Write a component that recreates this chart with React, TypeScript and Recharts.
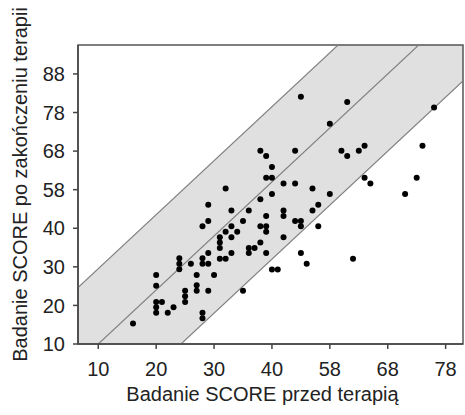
import React from 'react';
import {
  ComposedChart,
  Scatter,
  Area,
  Line,
  XAxis,
  YAxis,
  ReferenceArea,
} from 'recharts';

// Badanie SCORE przed terapia (x)
const before = [
  45, 53, 68, 50, 38, 44, 52, 55, 56, 66, 39, 53, 40, 39, 40, 56, 65, 42, 44, 57,
  32, 47, 40, 50, 63, 38, 29, 48, 33, 36, 42, 47, 39, 42, 29, 35, 44, 45, 28, 33,
  38, 39, 45, 48, 32, 34, 39, 31, 33, 42, 31, 38, 31, 36, 37, 29, 33, 36, 39, 45,
  24, 28, 31, 32, 54, 24, 26, 28, 29, 46, 24, 40, 41, 20, 27, 30, 27, 20, 25, 27,
  29, 35, 25, 20, 21, 25, 20, 23, 20, 22, 28, 28, 16,
];

// Badanie SCORE po zakonczeniu terapii (y)
const after = [
  74.1, 72.7, 71.3, 67.1, 60.1, 60.1, 60.1, 60.1, 61.4, 61.4, 58.7, 58.7, 55.9, 53.1, 53.1, 53.1, 53.1, 51.6, 51.6, 51.6,
  50.3, 50.3, 48.9, 48.9, 48.9, 47.5, 46.1, 46.1, 44.6, 44.6, 44.6, 44.6, 43.2, 43.2, 41.9, 41.9, 41.9, 41.9, 40.5, 40.5,
  40.5, 40.5, 40.5, 40.5, 39.1, 39.1, 39.1, 37.7, 37.7, 37.7, 36.3, 36.3, 34.9, 34.9, 34.9, 33.6, 33.6, 33.6, 33.6, 33.6,
  32.2, 32.2, 32.1, 32.1, 32.1, 30.8, 30.8, 30.8, 30.8, 30.8, 29.4, 29.3, 29.3, 27.9, 27.9, 27.9, 25.2, 25.1, 23.8, 23.8,
  23.8, 23.8, 22.4, 20.9, 20.9, 20.9, 19.5, 19.5, 18.1, 18.1, 18.1, 16.7, 15.3,
];

// diagonal band (end points at the plot edges)
const bandX = [6.5, 73];
const upperLine = [24.6, 117.7];
const midLine = [5.1, 98.2];
const lowerLine = [-14.9, 78.2];

const xTicks = [10, 20, 30, 40, 50, 60, 70];
const xTickLabels = ['10', '20', '30', '40', '58', '68', '78'];
const yTicks = [10, 20, 30, 40, 50, 60, 70, 80];
const yTickLabels = ['10', '20', '30', '40', '58', '68', '78', '88'];

const points = before.map((x, i) => ({ x, y: after[i] }));
const band = bandX.map((x, i) => ({
  x,
  upper: upperLine[i],
  mid: midLine[i],
  lower: lowerLine[i],
  range: [lowerLine[i], upperLine[i]],
}));

const FONT = '"Liberation Sans", Arial, sans-serif';

const YTitle = (props: any) => {
  const vb = props.viewBox;
  const x = vb.x + 27;
  const y = vb.y + vb.height / 2 - 10;
  return (
    <text x={x} y={y} transform={`rotate(-90 ${x} ${y})`} textAnchor='middle' fontSize={20} fill='#222' fontFamily={FONT}>
      Badanie SCORE po zakończeniu terapii
    </text>
  );
};

const XTitle = (props: any) => {
  const vb = props.viewBox;
  const x = vb.x + vb.width / 2 - 8;
  const y = vb.y + 57;
  return (
    <text x={x} y={y} textAnchor='middle' fontSize={20} fill='#222' fontFamily={FONT}>
      Badanie SCORE przed terapią
    </text>
  );
};

const Dot = (props: any) => <circle cx={props.cx} cy={props.cy} r={3} fill='#000' />;

export default function App() {
  return (
    <div style={{ position: 'absolute', left: 0, top: 0 }}>
      <ComposedChart width={465} height={415} data={band} margin={{ top: 45, right: 2, left: 0, bottom: 11 }}>
        <XAxis
          type='number'
          dataKey='x'
          domain={[6.5, 73]}
          allowDataOverflow
          ticks={xTicks}
          tickFormatter={(v: number) => xTickLabels[xTicks.indexOf(v)]}
          height={60}
          tickSize={5}
          tickMargin={13}
          stroke='#444'
          strokeWidth={1.5}
          tick={{ fill: '#222', fontSize: 20, fontFamily: FONT }}
          label={<XTitle />}
        />
        <YAxis
          type='number'
          domain={[10, 87.5]}
          allowDataOverflow
          ticks={yTicks}
          tickFormatter={(v: number) => yTickLabels[yTicks.indexOf(v)]}
          width={78}
          tickSize={5}
          tickMargin={8}
          stroke='#444'
          strokeWidth={1.5}
          tick={{ fill: '#222', fontSize: 20, fontFamily: FONT }}
          label={<YTitle />}
        />
        <Area dataKey='range' type='linear' fill='#e0e0e0' fillOpacity={1} stroke='none' isAnimationActive={false} />
        <Line dataKey='upper' type='linear' stroke='#808080' strokeWidth={1.2} dot={false} isAnimationActive={false} />
        <Line dataKey='mid' type='linear' stroke='#808080' strokeWidth={1.2} dot={false} isAnimationActive={false} />
        <Line dataKey='lower' type='linear' stroke='#808080' strokeWidth={1.2} dot={false} isAnimationActive={false} />
        <ReferenceArea x1={6.5} x2={73} y1={10} y2={87.5} fill='none' stroke='#555' strokeWidth={1.5} />
        <Scatter data={points} dataKey='y' shape={<Dot />} isAnimationActive={false} />
      </ComposedChart>
    </div>
  );
}
